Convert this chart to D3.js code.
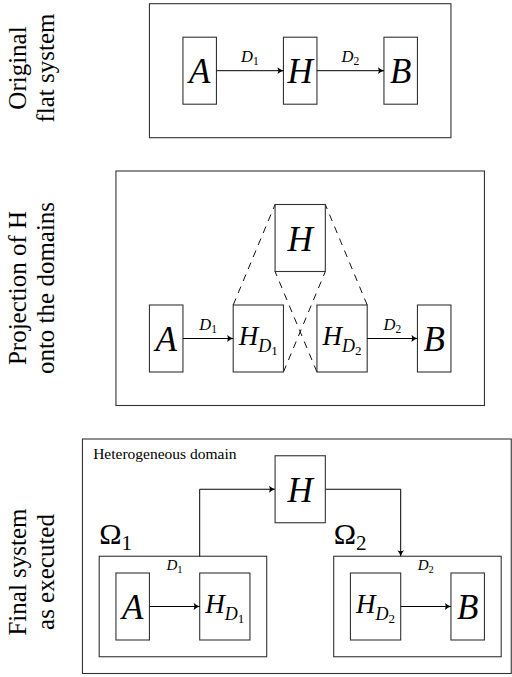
<!DOCTYPE html>
<html>
<head>
<meta charset="utf-8">
<script src="https://cdn.jsdelivr.net/npm/d3@7"></script>
</head>
<body style="margin:0">
<div id="chart"></div>
<script>
// diagram units are centimetres, mapped to pixels by the scales below
const panelLabels = [['Original', 'flat system'], ['Projection of H', 'onto the domains'], ['Final system', 'as executed']];
const panelFrames = [[-1.5, 2, 7.5, -2], [-2.5, 5, 8.5, -2], [-3.5, 5, 9.3, -2]];

const flatNodes = [
  { id: 'A', cx: 0, cy: 0, w: 1, h: 2, name: ['A'] },
  { id: 'H', cx: 3, cy: 0, w: 1, h: 2, name: ['H'] },
  { id: 'B', cx: 6, cy: 0, w: 1, h: 2, name: ['B'] }
];
const projNodes = [
  { id: 'A', cx: -1, cy: 0, w: 1, h: 2, name: ['A'] },
  { id: 'HD1', cx: 1.75, cy: 0, w: 1.5, h: 2, name: ['H', 'D', '1'] },
  { id: 'HD2', cx: 4.25, cy: 0, w: 1.5, h: 2, name: ['H', 'D', '2'] },
  { id: 'B', cx: 7, cy: 0, w: 1, h: 2, name: ['B'] },
  { id: 'H', cx: 3, cy: 3, w: 1.5, h: 2, name: ['H'] }
];
const execNodes = [
  { id: 'A', cx: -2, cy: 0, w: 1, h: 2, name: ['A'] },
  { id: 'HD1', cx: 0.75, cy: 0, w: 1.5, h: 2, name: ['H', 'D', '1'] },
  { id: 'HD2', cx: 5.25, cy: 0, w: 1.5, h: 2, name: ['H', 'D', '2'] },
  { id: 'B', cx: 8, cy: 0, w: 1, h: 2, name: ['B'] },
  { id: 'H', cx: 3, cy: 3.5, w: 1.5, h: 2, name: ['H'] }
];
const domains = [
  { name: '1', x1: -3, x2: 2, y1: 1.5, y2: -1.5 },
  { name: '2', x1: 4, x2: 9, y1: 1.5, y2: -1.5 }
];

const flatEdges = [['A', 'H', '1'], ['H', 'B', '2']];
const projEdges = [['A', 'HD1', '1'], ['HD2', 'B', '2']];
const execEdges = [['A', 'HD1', '1'], ['HD2', 'B', '2']];
const projDashes = [[['HD1', 'nw'], ['H', 'nw']], [['HD1', 'se'], ['H', 'se']],
                    [['HD2', 'ne'], ['H', 'ne']], [['HD2', 'sw'], ['H', 'sw']]];
const execPaths = [[[0, 1.5], [0, 3.5], [2.25, 3.5]], [[3.75, 3.5], [6, 3.5], [6, 1.5]]];
const edgeLabelRaise = [0.27, 0.25, 1.09];

const unit = 33.5;
const x = d3.scaleLinear().domain([0, 1]).range([199.7, 199.7 + unit]);
const panelCenters = [70.7, 338.5, 606.5];
const ys = panelCenters.map(c => d3.scaleLinear().domain([0, 1]).range([c, c - unit]));
const labelCenters = [68, 288, 572];

const svg = d3.select('#chart').append('svg')
  .attr('width', 512).attr('height', 677);

function addText(g, size) {
  return g.append('text')
    .style('font-family', 'serif')
    .style('font-size', size + 'px');
}

function addSpan(t, s, size, italic) {
  const sp = t.append('tspan').style('font-size', size + 'px');
  if (italic) sp.style('font-style', 'italic');
  return sp.text(s);
}

svg.append('defs').append('marker')
  .attr('id', 'tip')
  .attr('markerUnits', 'userSpaceOnUse')
  .attr('viewBox', '-8 -5 9 10')
  .attr('refX', 0).attr('refY', 0)
  .attr('markerWidth', 9).attr('markerHeight', 10)
  .attr('orient', 'auto')
  .append('path')
  .attr('d', 'M0,0 Q-3,-0.8 -6,-3.4 Q-4.2,0 -6,3.4 Q-3,0.8 0,0Z')
  .attr('fill', '#000');

// left hand labels
panelLabels.forEach((lines, i) => {
  lines.forEach((t, j) => {
    addText(svg, 25)
      .attr('transform', 'translate(' + (26 + j * 28) + ',' + labelCenters[i] + ') rotate(-90)')
      .attr('text-anchor', 'middle')
      .text(t);
  });
});

// outer frames
panelFrames.forEach((f, i) => {
  svg.append('rect')
    .attr('x', x(f[0])).attr('y', ys[i](f[1]))
    .attr('width', x(f[2]) - x(f[0])).attr('height', ys[i](f[3]) - ys[i](f[1]))
    .attr('fill', 'none').attr('stroke', '#333').attr('stroke-width', 1.1);
});

function mathText(g, px, py, parts, big) {
  const t = addText(g, big).attr('x', px).attr('y', py).attr('text-anchor', 'middle');
  if (parts.length === 1) {
    addSpan(t, parts[0], big, true);
  } else {
    addSpan(t, parts[0], 27, true);
    addSpan(t, parts[1], 18, true).attr('dy', 6.5);
    addSpan(t, parts[2], 13, false).attr('dy', 3.5);
  }
  return t;
}

function edgeLabel(g, px, py, sub, size) {
  const t = addText(g, size).attr('x', px).attr('y', py).attr('text-anchor', 'middle');
  addSpan(t, 'D', size, true);
  addSpan(t, sub, size * 0.7, false).attr('dy', 3);
}

function corner(n, c, y) {
  const px = c.includes('w') ? x(n.cx - n.w / 2) : x(n.cx + n.w / 2);
  const py = c.includes('n') ? y(n.cy + n.h / 2) : y(n.cy - n.h / 2);
  return [px, py];
}

function drawNodes(nodes, y) {
  const g = svg.append('g');
  g.selectAll('rect').data(nodes).enter().append('rect')
    .attr('x', d => x(d.cx - d.w / 2))
    .attr('y', d => y(d.cy + d.h / 2))
    .attr('width', d => x(d.cx + d.w / 2) - x(d.cx - d.w / 2))
    .attr('height', d => y(d.cy - d.h / 2) - y(d.cy + d.h / 2))
    .attr('fill', 'none').attr('stroke', '#333').attr('stroke-width', 1.1);
  nodes.forEach(d => {
    const off = d.name.length === 1 ? 12.6 : 6.5;
    mathText(g, x(d.cx), y(d.cy) + off, d.name, 35);
  });
}

function drawEdges(nodes, edges, y, raise, size) {
  const byId = {};
  nodes.forEach(n => { byId[n.id] = n; });
  edges.forEach(e => {
    const s = byId[e[0]], t = byId[e[1]];
    const x1 = x(s.cx + s.w / 2), x2 = x(t.cx - t.w / 2);
    svg.append('line')
      .attr('x1', x1).attr('x2', x2).attr('y1', y(s.cy)).attr('y2', y(t.cy))
      .attr('stroke', '#000').attr('stroke-width', 1)
      .attr('marker-end', 'url(#tip)');
    edgeLabel(svg, (x1 + x2) / 2, y(s.cy + raise), e[2], size);
  });
}

// panel 1
drawNodes(flatNodes, ys[0]);
drawEdges(flatNodes, flatEdges, ys[0], edgeLabelRaise[0], 16.5);

// panel 2
const projById = {};
projNodes.forEach(n => { projById[n.id] = n; });
projDashes.forEach(p => {
  const a = corner(projById[p[0][0]], p[0][1], ys[1]);
  const b = corner(projById[p[1][0]], p[1][1], ys[1]);
  svg.append('line')
    .attr('x1', a[0]).attr('y1', a[1]).attr('x2', b[0]).attr('y2', b[1])
    .attr('stroke', '#111').attr('stroke-width', 1)
    .attr('stroke-dasharray', '7,6');
});
drawNodes(projNodes, ys[1]);
drawEdges(projNodes, projEdges, ys[1], edgeLabelRaise[1], 16.5);

// panel 3
addText(svg, 15.5)
  .attr('x', x(panelFrames[2][0] + 0.32)).attr('y', ys[2](panelFrames[2][1]) + 19.5)
  .text('Heterogeneous domain');

domains.forEach(d => {
  svg.append('rect')
    .attr('x', x(d.x1)).attr('y', ys[2](d.y1))
    .attr('width', x(d.x2) - x(d.x1)).attr('height', ys[2](d.y2) - ys[2](d.y1))
    .attr('fill', 'none').attr('stroke', '#333').attr('stroke-width', 1.1);
  const t = addText(svg, 30).attr('x', x(d.x1)).attr('y', ys[2](d.y1) - 12.7);
  addSpan(t, '\u03A9', 30, false);
  addSpan(t, d.name, 21, false).attr('dy', 6.7);
});

const line = d3.line().x(d => x(d[0])).y(d => ys[2](d[1]));
execPaths.forEach(p => {
  svg.append('path')
    .attr('d', line(p))
    .attr('fill', 'none').attr('stroke', '#000').attr('stroke-width', 1)
    .attr('marker-end', 'url(#tip)');
});
drawNodes(execNodes, ys[2]);
drawEdges(execNodes, execEdges, ys[2], edgeLabelRaise[2], 15);
</script>
</body>
</html>
